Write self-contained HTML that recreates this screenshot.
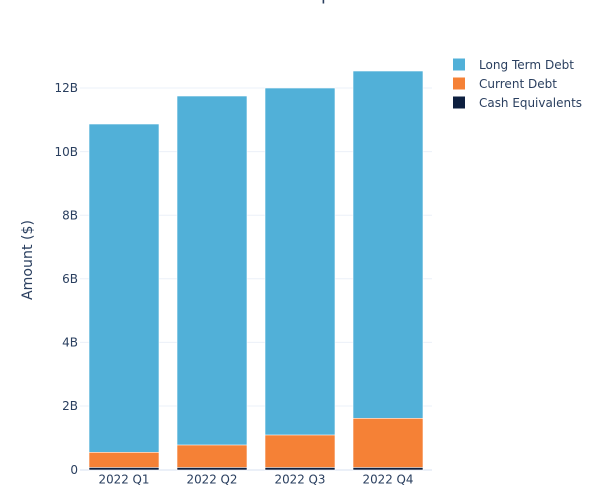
<!DOCTYPE html>
<html><head><meta charset="utf-8"><style>
html,body{margin:0;padding:0;background:#fff;}
svg{display:block;font-family:"DejaVu Sans","Liberation Sans",sans-serif;}
</style></head><body>
<svg width="600" height="500" viewBox="0 0 600 500" xmlns="http://www.w3.org/2000/svg">
<rect width="600" height="500" fill="#fff"/>
<!-- title descender -->
<rect x="322.6" y="0" width="1.6" height="3.5" fill="#2a3f5f"/>
<!-- gridlines -->
<g stroke="#ebf0f8" stroke-width="1">
<line x1="80" x2="432" y1="88" y2="88"/>
<line x1="80" x2="432" y1="151.6" y2="151.6"/>
<line x1="80" x2="432" y1="215.2" y2="215.2"/>
<line x1="80" x2="432" y1="278.8" y2="278.8"/>
<line x1="80" x2="432" y1="342.4" y2="342.4"/>
<line x1="80" x2="432" y1="406" y2="406"/>
</g>
<line x1="80" x2="432" y1="470" y2="470" stroke="#ebf0f8" stroke-width="2"/>
<!-- bars -->
<g stroke="#ffffff" stroke-width="0.6">
<rect x="89" y="124" width="70" height="346" fill="#51b0d8"/>
<rect x="89" y="452.3" width="70" height="17.7" fill="#f58136"/>
<rect x="89" y="467.5" width="70" height="2.5" fill="#0d1f3f"/>
<rect x="177" y="96" width="70" height="374" fill="#51b0d8"/>
<rect x="177" y="445" width="70" height="25" fill="#f58136"/>
<rect x="177" y="467.5" width="70" height="2.5" fill="#0d1f3f"/>
<rect x="265" y="88" width="70" height="382" fill="#51b0d8"/>
<rect x="265" y="435" width="70" height="35" fill="#f58136"/>
<rect x="265" y="467.5" width="70" height="2.5" fill="#0d1f3f"/>
<rect x="353" y="71" width="70" height="399" fill="#51b0d8"/>
<rect x="353" y="418.3" width="70" height="51.7" fill="#f58136"/>
<rect x="353" y="467.5" width="70" height="2.5" fill="#0d1f3f"/>
</g>
<!-- y tick labels -->
<g fill="#2a3f5f" font-size="12" text-anchor="end">
<text x="78" y="92.2">12B</text>
<text x="78" y="155.8">10B</text>
<text x="78" y="219.4">8B</text>
<text x="78" y="283">6B</text>
<text x="78" y="346.6">4B</text>
<text x="78" y="410.2">2B</text>
<text x="78" y="474">0</text>
</g>
<!-- x tick labels -->
<g fill="#2a3f5f" font-size="12">
<text x="98.5" y="483.5" textLength="51" lengthAdjust="spacingAndGlyphs">2022 Q1</text>
<text x="186.5" y="483.5" textLength="51" lengthAdjust="spacingAndGlyphs">2022 Q2</text>
<text x="274.5" y="483.5" textLength="51" lengthAdjust="spacingAndGlyphs">2022 Q3</text>
<text x="362.5" y="483.5" textLength="51" lengthAdjust="spacingAndGlyphs">2022 Q4</text>
</g>
<!-- y axis title -->
<text transform="translate(32,300) rotate(-90)" fill="#2a3f5f" font-size="14" textLength="80" lengthAdjust="spacingAndGlyphs">Amount ($)</text>
<!-- legend -->
<rect x="453" y="58.5" width="12" height="12" fill="#51b0d8"/>
<rect x="453" y="77.5" width="12" height="12" fill="#f58136"/>
<rect x="453" y="96.5" width="12" height="12" fill="#0d1f3f"/>
<g fill="#2a3f5f" font-size="12">
<text x="479" y="68.8" textLength="95" lengthAdjust="spacingAndGlyphs">Long Term Debt</text>
<text x="479" y="87.8" textLength="78" lengthAdjust="spacingAndGlyphs">Current Debt</text>
<text x="479" y="106.8" textLength="103" lengthAdjust="spacingAndGlyphs">Cash Equivalents</text>
</g>
</svg>
</body></html>
